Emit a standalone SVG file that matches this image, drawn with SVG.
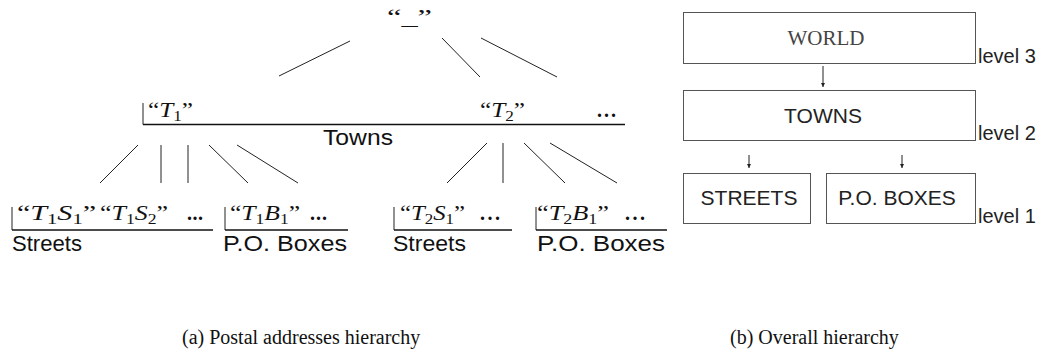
<svg xmlns="http://www.w3.org/2000/svg" width="1042" height="350" viewBox="0 0 1042 350">
<defs>
<marker id="ah" viewBox="0 0 8 8" refX="8" refY="4" markerWidth="4" markerHeight="4" markerUnits="userSpaceOnUse" orient="auto">
<path d="M0,0 L8,4 L0,8 z" fill="#222"/>
</marker>
</defs>
<style>
.m{font-family:"Liberation Serif",serif;font-size:22px;fill:#111}
.i{font-style:italic}
.sb{font-size:15px}
.s{font-family:"Liberation Sans",Arial,sans-serif;font-size:22px;fill:#111}
.r{font-family:"Liberation Sans",Arial,sans-serif;font-size:21px;fill:#222}
.lv{font-family:"Liberation Sans",Arial,sans-serif;font-size:20px;fill:#222}
.cap{font-family:"Liberation Serif",serif;font-size:20px;fill:#111}
.e{stroke:#222;stroke-width:1;fill:none}
.bar{stroke:#111;stroke-width:1.6;fill:none}
.box{fill:#fff;stroke:#555;stroke-width:1}
.dots{font-family:"Liberation Serif",serif;font-size:20px;font-weight:bold;fill:#111}
</style>
<rect width="1042" height="350" fill="#fff"/>
<g id="connectors">
<line class="e" x1="350" y1="41" x2="279" y2="76"/>
<line class="e" x1="442" y1="38" x2="480" y2="77"/>
<line class="e" x1="481" y1="38" x2="557" y2="77"/>
<line class="e" x1="138" y1="145" x2="100" y2="183"/>
<line class="e" x1="161" y1="145" x2="161" y2="183"/>
<line class="e" x1="188" y1="145" x2="188" y2="183"/>
<line class="e" x1="209" y1="145" x2="248" y2="183"/>
<line class="e" x1="237" y1="145" x2="298" y2="183"/>
<line class="e" x1="487" y1="143" x2="447" y2="183"/>
<line class="e" x1="503" y1="143" x2="503" y2="183"/>
<line class="e" x1="524" y1="143" x2="565" y2="183"/>
<line class="e" x1="550" y1="143" x2="617" y2="183"/>
<line class="e" x1="823" y1="66" x2="823" y2="87" marker-end="url(#ah)"/>
<line class="e" x1="749" y1="155" x2="749" y2="168" marker-end="url(#ah)"/>
<line class="e" x1="902" y1="155" x2="902" y2="168" marker-end="url(#ah)"/>
</g>
<g id="root">
<text class="m" x="387" y="24" textLength="45" lengthAdjust="spacingAndGlyphs">“_”</text>
</g>
<g id="towns">
<line class="e" x1="143" y1="103" x2="143" y2="124.5"/>
<line class="bar" x1="143" y1="124.5" x2="625" y2="124.5"/>
<text class="m" x="148" y="117" textLength="45" lengthAdjust="spacingAndGlyphs">“<tspan class="i">T</tspan><tspan class="sb" dy="4">1</tspan><tspan dy="-4">”</tspan></text>
<text class="m" x="480" y="117" textLength="45" lengthAdjust="spacingAndGlyphs">“<tspan class="i">T</tspan><tspan class="sb" dy="4">2</tspan><tspan dy="-4">”</tspan></text>
<text class="dots" x="597" y="117" textLength="19">...</text>
<text class="s" x="323" y="145" textLength="70" lengthAdjust="spacingAndGlyphs">Towns</text>
</g>
<g id="streets1">
<line class="e" x1="12" y1="207" x2="12" y2="230"/>
<line class="bar" x1="12" y1="230" x2="213" y2="230"/>
<text class="m" x="17" y="220" textLength="79" lengthAdjust="spacingAndGlyphs">“<tspan class="i">T</tspan><tspan class="sb" dy="4">1</tspan><tspan class="i" dy="-4">S</tspan><tspan class="sb" dy="4">1</tspan><tspan dy="-4">”</tspan></text>
<text class="m" x="100" y="220" textLength="68" lengthAdjust="spacingAndGlyphs">“<tspan class="i">T</tspan><tspan class="sb" dy="4">1</tspan><tspan class="i" dy="-4">S</tspan><tspan class="sb" dy="4">2</tspan><tspan dy="-4">”</tspan></text>
<text class="dots" x="187" y="220" textLength="16">...</text>
<text class="s" x="12" y="251" textLength="70" lengthAdjust="spacingAndGlyphs">Streets</text>
</g>
<g id="boxes1">
<line class="e" x1="225" y1="207" x2="225" y2="230"/>
<line class="bar" x1="225" y1="230" x2="348" y2="230"/>
<text class="m" x="230" y="220" textLength="70" lengthAdjust="spacingAndGlyphs">“<tspan class="i">T</tspan><tspan class="sb" dy="4">1</tspan><tspan class="i" dy="-4">B</tspan><tspan class="sb" dy="4">1</tspan><tspan dy="-4">”</tspan></text>
<text class="dots" x="310" y="220" textLength="17">...</text>
<text class="s" x="223" y="251" textLength="124" lengthAdjust="spacingAndGlyphs">P.O. Boxes</text>
</g>
<g id="streets2">
<line class="e" x1="394" y1="207" x2="394" y2="230"/>
<line class="bar" x1="394" y1="230" x2="512" y2="230"/>
<text class="m" x="400" y="220" textLength="65" lengthAdjust="spacingAndGlyphs">“<tspan class="i">T</tspan><tspan class="sb" dy="4">2</tspan><tspan class="i" dy="-4">S</tspan><tspan class="sb" dy="4">1</tspan><tspan dy="-4">”</tspan></text>
<text class="dots" x="480" y="220" textLength="20">...</text>
<text class="s" x="393" y="251" textLength="73" lengthAdjust="spacingAndGlyphs">Streets</text>
</g>
<g id="boxes2">
<line class="e" x1="536" y1="207" x2="536" y2="230"/>
<line class="bar" x1="536" y1="230" x2="667" y2="230"/>
<text class="m" x="537" y="220" textLength="72" lengthAdjust="spacingAndGlyphs">“<tspan class="i">T</tspan><tspan class="sb" dy="4">2</tspan><tspan class="i" dy="-4">B</tspan><tspan class="sb" dy="4">1</tspan><tspan dy="-4">”</tspan></text>
<text class="dots" x="625" y="220" textLength="20">...</text>
<text class="s" x="537" y="251" textLength="128" lengthAdjust="spacingAndGlyphs">P.O. Boxes</text>
</g>
<g id="world">
<rect class="box" x="683.5" y="12.5" width="292" height="51"/>
<text x="826" y="45" text-anchor="middle" font-family="Liberation Serif, serif" font-size="21" fill="#444">WORLD</text>
<text class="lv" x="978" y="63">level 3</text>
</g>
<g id="towns-box">
<rect class="box" x="683.5" y="90.5" width="292" height="50"/>
<text class="r" x="823" y="123" text-anchor="middle">TOWNS</text>
<text class="lv" x="978" y="140">level 2</text>
</g>
<g id="streets-box">
<rect class="box" x="683.5" y="173.5" width="127" height="50"/>
<text class="r" x="749" y="205" text-anchor="middle">STREETS</text>
</g>
<g id="poboxes-box">
<rect class="box" x="826.5" y="173.5" width="149" height="50"/>
<text class="r" x="897" y="205" text-anchor="middle">P.O. BOXES</text>
<text class="lv" x="978" y="223">level 1</text>
</g>
<g id="captions">
<text class="cap" x="182" y="344">(a) Postal addresses hierarchy</text>
<text class="cap" x="730" y="344">(b) Overall hierarchy</text>
</g>
</svg>
